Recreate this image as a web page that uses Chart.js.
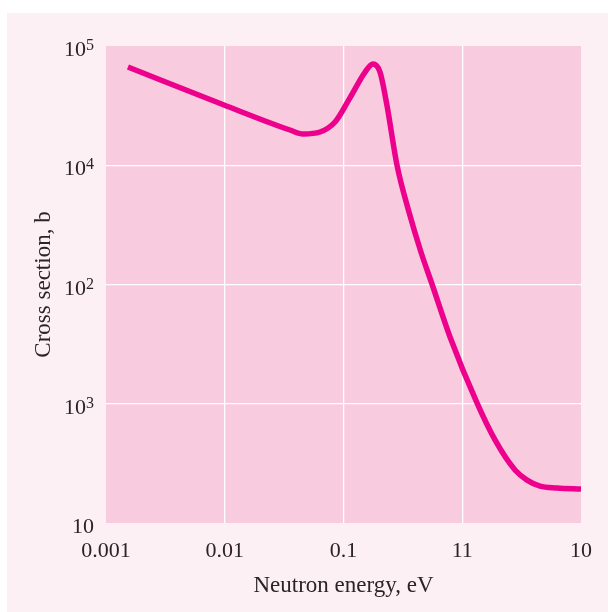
<!DOCTYPE html>
<html>
<head>
<meta charset="utf-8">
<script src="https://cdn.jsdelivr.net/npm/chart.js@4"></script>
<style>
  html, body { margin: 0; padding: 0; background: #ffffff; }
  #wrap { width: 608px; height: 612px; position: relative; }
</style>
</head>
<body>
<div id="wrap"><canvas id="crossChart" width="608" height="612"></canvas></div>
<script>
// énergies des neutrons (eV) et section efficace (barns)
const energies = [0.00153, 0.00986, 0.0354, 0.0456, 0.0634, 0.0848, 0.113, 0.152, 0.177,
  0.203, 0.232, 0.282, 0.356, 0.449, 0.556, 0.789, 1.331, 1.887, 2.782, 3.51, 4.52, 6.28, 10];
const crossSections = [66700, 32000, 19750, 18300, 19000, 23050, 36600, 60500, 70700,
  60500, 32000, 10050, 4055, 1873, 1010, 363, 101.5, 49.7, 27.8, 22.9, 20.4, 19.7, 19.3];

// graduations et libellés (tels qu'imprimés sur la figure)
const xTickValues = [0.001, 0.01, 0.1, 1, 10];
const xTickLabels = ['0.001', '0.01', '0.1', '11', '10'];
const yTickValues = [10, 100, 1000, 10000, 100000];
const yTickBase = ['10', '10', '10', '10', '10'];
const yTickExp = ['', '3', '2', '4', '5'];

const serif = '"Liberation Serif", "DejaVu Serif", serif';
const textColor = '#2a2426';

// fond de panneau + zone de tracé rose
const backgroundPlugin = {
  id: 'panelBackground',
  beforeDraw(chart) {
    const c = chart.ctx;
    const a = chart.chartArea;
    c.save();
    c.fillStyle = '#fdf0f5';
    c.fillRect(7, 13, chart.width - 7, chart.height - 13);
    c.fillStyle = '#f8cbdf';
    c.fillRect(a.left, a.top, a.right - a.left, a.bottom - a.top);
    c.restore();
  }
};

// libellés de l'axe y avec exposant (10 + puissance en haut)
const powerLabelsPlugin = {
  id: 'powerLabels',
  afterDraw(chart) {
    const c = chart.ctx;
    const yScale = chart.scales.y;
    const right = yScale.right - 12;
    c.save();
    c.fillStyle = textColor;
    c.textAlign = 'right';
    c.textBaseline = 'alphabetic';
    yTickValues.forEach((v, i) => {
      const py = yScale.getPixelForValue(v);
      let x = right;
      if (yTickExp[i]) {
        c.font = '16px ' + serif;
        c.fillText(yTickExp[i], x, py + 4);
        x -= c.measureText(yTickExp[i]).width;
      }
      c.font = '22px ' + serif;
      c.fillText(yTickBase[i], x, py + 10);
    });
    c.restore();
  }
};

function innerGrid(ctx) {
  // pas de ligne blanche sur les bords
  const n = ctx.scale.ticks.length;
  if (ctx.index === 0 || ctx.index === n - 1) return 'rgba(0,0,0,0)';
  return '#ffffff';
}

const points = energies.map((e, i) => ({ x: e, y: crossSections[i] }));

const ctx = document.getElementById('crossChart').getContext('2d');
const chart = new Chart(ctx, {
  type: 'scatter',
  data: {
    datasets: [{
      data: points,
      showLine: true,
      borderColor: '#ec008c',
      backgroundColor: '#ec008c',
      borderWidth: 5.5,
      pointRadius: 0,
      cubicInterpolationMode: 'monotone'
    }]
  },
  plugins: [backgroundPlugin, powerLabelsPlugin],
  options: {
    responsive: false,
    animation: false,
    layout: { padding: { left: 0, right: 27, top: 46, bottom: 0 } },
    plugins: { legend: { display: false }, tooltip: { enabled: false } },
    scales: {
      x: {
        type: 'logarithmic',
        min: 0.001,
        max: 10,
        afterBuildTicks: s => { s.ticks = xTickValues.map(v => ({ value: v })); },
        afterFit: s => { s.height = 89; },
        border: { display: false },
        grid: { color: innerGrid, lineWidth: 1.3, drawTicks: false },
        ticks: {
          padding: 15,
          maxRotation: 0,
          autoSkip: false,
          color: textColor,
          font: { family: serif, size: 22 },
          callback: (v, i) => xTickLabels[i]
        },
        title: {
          display: true,
          text: 'Neutron energy, eV',
          color: textColor,
          font: { family: serif, size: 23 },
          padding: { top: 0, bottom: 12 }
        }
      },
      y: {
        type: 'logarithmic',
        min: 10,
        max: 100000,
        afterBuildTicks: s => { s.ticks = yTickValues.map(v => ({ value: v })); },
        afterFit: s => { s.width = 106; },
        border: { display: false },
        grid: { color: innerGrid, lineWidth: 1.3, drawTicks: false },
        ticks: { display: false },
        title: {
          display: true,
          text: 'Cross section, b',
          color: textColor,
          font: { family: serif, size: 23 },
          padding: { top: 30, bottom: 0 }
        }
      }
    }
  }
});
</script>
</body>
</html>
